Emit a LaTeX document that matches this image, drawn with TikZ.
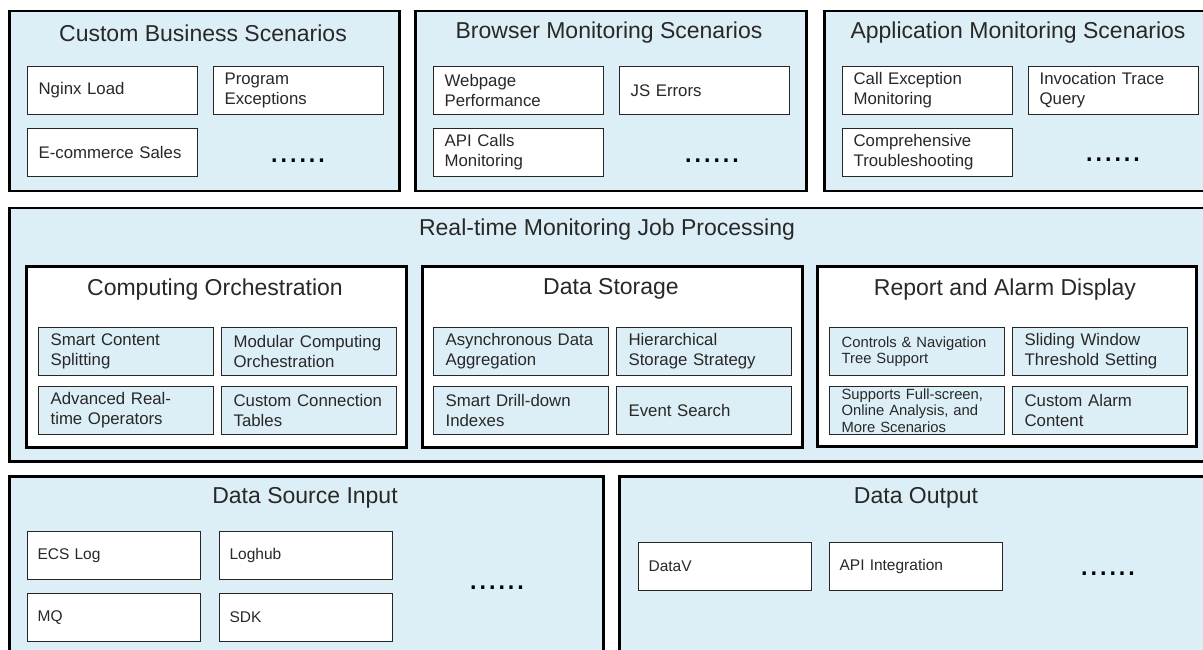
\documentclass[tikz,border=0pt]{standalone}
\usepackage{fontspec}
\setmainfont{Liberation Sans}
\usepackage{xcolor}
\usepackage{tikz}

\definecolor{paleblue}{RGB}{221,239,246}
\definecolor{inkgray}{RGB}{40,40,40}

\begin{document}
\begin{tikzpicture}[x=1pt,y=-1pt,
    panel/.style={draw=black,line width=2.5pt,fill=paleblue,anchor=north west,inner sep=0pt},
    subpanel/.style={draw=black,line width=2.5pt,fill=white,anchor=north west,inner sep=0pt},
    ttl/.style={text=inkgray,font=\fontsize{23}{27}\selectfont},
    item/.style={draw=black!85,line width=1.2pt,fill=white,anchor=north west,
      inner xsep=11pt,inner ysep=0pt,minimum height=48pt,text width=148pt,
      align=left,text=inkgray,font=\fontsize{16.8}{20}\selectfont},
    subitem/.style={item,fill=paleblue,inner xsep=12pt,text width=151pt},
    srcitem/.style={item,inner xsep=10pt,text width=153pt,font=\fontsize{15.5}{18}\selectfont},
    more/.style={anchor=base,text=black,font=\fontsize{34}{34}\selectfont}]
  \useasboundingbox (0,0) rectangle (1203,650);
  \clip (0,0) rectangle (1203,650);
  \fill[white] (0,0) rectangle (1203,650);

  % scenario layer
  \node[panel,minimum width=390pt,minimum height=180pt] (biz) at (8,10) {};
  \node[ttl] (biz-t) at (203,33) {Custom Business Scenarios};
  \node[item] (nginx) at (27,66) {Nginx Load};
  \node[item] (progexc) at (213,66) {Program\\Exceptions};
  \node[item] (ecom) at (27,128) {E-commerce Sales};
  \node[more] (biz-m) at (298,163) {......};

  \node[panel,minimum width=391pt,minimum height=180pt] (brw) at (414,10) {};
  \node[ttl] (brw-t) at (609,33) {Browser Monitoring Scenarios};
  \node[item] (webperf) at (433,66) {Webpage\\Performance};
  \node[item] (jserr) at (619,66) {JS Errors};
  \node[item] (apicall) at (433,128) {API Calls\\Monitoring};
  \node[more] (brw-m) at (712,163) {......};

  \node[panel,minimum width=390pt,minimum height=180pt] (app) at (823,10) {};
  \node[ttl] (app-t) at (1018,33) {Application Monitoring Scenarios};
  \node[item] (callexc) at (842,66) {Call Exception\\Monitoring};
  \node[item] (trace) at (1028,66) {Invocation Trace\\Query};
  \node[item] (trouble) at (842,128) {Comprehensive\\Troubleshooting};
  \node[more] (app-m) at (1113,162) {......};

  % job processing layer
  \node[panel,minimum width=1200pt,minimum height=253pt] (job) at (8,207) {};
  \node[ttl] (job-t) at (607,230) {Real-time Monitoring Job Processing};

  \node[subpanel,minimum width=380pt,minimum height=181pt] (orch) at (25,265) {};
  \node[ttl] (orch-t) at (215,290) {Computing Orchestration};
  \node[subitem] (split) at (38,327) {Smart Content\\Splitting};
  \node[subitem] (modular) at (221,327) {Modular Computing\\Orchestration};
  \node[subitem] (operators) at (38,386) {Advanced Real-\\time Operators};
  \node[subitem] (jointab) at (221,386) {Custom Connection\\Tables};

  \node[subpanel,minimum width=380pt,minimum height=181pt] (store) at (421,265) {};
  \node[ttl] (store-t) at (611,289) {Data Storage};
  \node[subitem] (aggr) at (433,327) {Asynchronous Data\\Aggregation};
  \node[subitem] (tiers) at (616,327) {Hierarchical\\Storage Strategy};
  \node[subitem] (drill) at (433,386) {Smart Drill-down\\Indexes};
  \node[subitem] (evsearch) at (616,386) {Event Search};

  \node[subpanel,minimum width=379pt,minimum height=180pt] (alarm) at (816,265) {};
  \node[ttl] (alarm-t) at (1005,290) {Report and Alarm Display};
  \node[subitem,font=\fontsize{14.8}{16.5}\selectfont] (navtree) at (829,327) {Controls \& Navigation\\Tree Support};
  \node[subitem] (window) at (1012,327) {Sliding Window\\Threshold Setting};
  \node[subitem,font=\fontsize{14.8}{16.5}\selectfont] (fullscr) at (829,386) {Supports Full-screen,\\Online Analysis, and\\More Scenarios};
  \node[subitem] (alarmtxt) at (1012,386) {Custom Alarm\\Content};

  % input and output layer
  \node[panel,minimum width=594pt,minimum height=200pt] (src) at (8,475) {};
  \node[ttl] (src-t) at (305,498) {Data Source Input};
  \node[srcitem] (ecs) at (27,531) {ECS Log};
  \node[srcitem] (loghub) at (219,531) {Loghub};
  \node[srcitem] (mq) at (27,593) {MQ};
  \node[srcitem] (sdk) at (219,593) {SDK};
  \node[more] (src-m) at (497,589) {......};

  \node[panel,minimum width=596pt,minimum height=200pt] (out) at (618,475) {};
  \node[ttl] (out-t) at (916,498) {Data Output};
  \node[srcitem] (datav) at (638,542) {DataV};
  \node[srcitem] (apiint) at (829,542) {API Integration};
  \node[more] (out-m) at (1108,575) {......};
\end{tikzpicture}
\end{document}
